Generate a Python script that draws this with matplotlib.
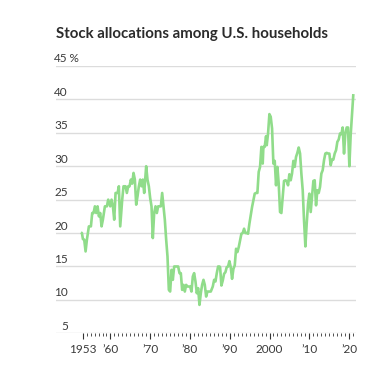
import matplotlib
matplotlib.use("Agg")
import matplotlib.pyplot as plt
import matplotlib.transforms as mtrans
from matplotlib.ticker import FixedLocator

# ---- data ----
years = [
    1952.56, 1952.82, 1953.07, 1953.40, 1953.74, 1954.07, 1954.57, 1955.08, 1955.41, 1955.75,
    1956.08, 1956.42, 1956.75, 1957.09, 1957.42, 1957.76, 1958.09, 1958.60, 1959.10, 1959.43,
    1959.94, 1960.27, 1960.61, 1960.94, 1961.28, 1961.78, 1962.11, 1962.45, 1962.95, 1963.28,
    1963.79, 1964.12, 1964.46, 1964.79, 1965.13, 1965.46, 1965.80, 1966.13, 1966.47, 1966.80,
    1967.14, 1967.47, 1967.81, 1968.14, 1968.48, 1968.81, 1968.98, 1969.31, 1969.65, 1969.98,
    1970.32, 1970.65, 1970.99, 1971.33, 1971.66, 1972.00, 1972.33, 1972.67, 1973.00, 1973.34,
    1973.67, 1974.01, 1974.34, 1974.68, 1975.01, 1975.35, 1975.68, 1976.02, 1976.35, 1976.69,
    1977.02, 1977.36, 1977.69, 1978.03, 1978.36, 1978.70, 1979.03, 1979.37, 1979.70, 1980.04,
    1980.37, 1980.71, 1981.04, 1981.38, 1981.71, 1982.05, 1982.38, 1982.72, 1983.05, 1983.39,
    1983.72, 1984.06, 1984.39, 1984.73, 1985.23, 1985.73, 1986.07, 1986.40, 1986.74, 1987.07,
    1987.41, 1987.57, 1987.90, 1988.24, 1988.57, 1988.91, 1989.24, 1989.58, 1989.91, 1990.25,
    1990.58, 1990.92, 1991.25, 1991.59, 1991.92, 1992.26, 1992.59, 1992.93, 1993.26, 1993.60,
    1993.93, 1994.27, 1994.60, 1994.94, 1995.27, 1995.61, 1995.94, 1996.28, 1996.61, 1996.95,
    1997.28, 1997.62, 1997.96, 1998.29, 1998.46, 1998.79, 1999.13, 1999.30, 1999.63, 1999.97,
    2000.30, 2000.64, 2000.97, 2001.31, 2001.64, 2001.98, 2002.31, 2002.65, 2002.98, 2003.32,
    2003.65, 2003.99, 2004.32, 2004.66, 2004.99, 2005.33, 2005.66, 2006.00, 2006.33, 2006.67,
    2007.00, 2007.34, 2007.68, 2008.01, 2008.35, 2008.68, 2009.02, 2009.35, 2009.69, 2010.02,
    2010.36, 2010.69, 2011.03, 2011.36, 2011.70, 2012.03, 2012.37, 2012.70, 2013.04, 2013.37,
    2013.71, 2014.04, 2014.38, 2014.71, 2015.05, 2015.38, 2015.72, 2016.05, 2016.39, 2016.73,
    2017.06, 2017.40, 2017.73, 2018.07, 2018.40, 2018.74, 2019.07, 2019.41, 2019.74, 2020.08,
    2020.41, 2020.75, 2021.08,
]
stock_share = [
    20.1, 20.0, 19.1, 19.0, 17.25, 19.0, 21.0, 21.0, 23.0, 23.0,
    24.0, 23.0, 24.0, 22.5, 23.0, 21.0, 22.0, 24.0, 24.0, 25.0,
    24.0, 25.0, 24.0, 22.0, 26.0, 26.0, 27.0, 21.0, 25.0, 27.0,
    27.0, 26.0, 27.0, 27.0, 28.0, 27.4, 29.0, 28.0, 24.25, 25.5,
    27.0, 28.0, 27.0, 28.0, 26.0, 28.5, 30.0, 28.0, 27.0, 25.25,
    24.0, 19.25, 23.0, 24.0, 23.0, 24.0, 24.0, 24.0, 26.0, 24.0,
    22.0, 19.0, 16.5, 11.5, 11.25, 14.5, 13.0, 15.0, 15.0, 15.0,
    15.0, 14.0, 14.0, 11.5, 12.25, 11.25, 12.25, 12.0, 12.0, 12.0,
    11.25, 13.5, 14.0, 12.75, 11.0, 11.75, 9.25, 11.0, 12.25, 13.0,
    12.25, 10.5, 11.25, 11.25, 11.25, 12.0, 13.0, 12.75, 14.0, 15.0,
    15.0, 14.9, 12.15, 12.9, 13.9, 14.15, 14.9, 15.0, 15.8, 14.9,
    13.15, 14.65, 15.15, 17.65, 17.15, 17.9, 18.9, 19.9, 20.0, 20.65,
    20.0, 20.0, 19.9, 21.4, 22.65, 23.9, 24.9, 25.9, 26.0, 26.0,
    29.15, 29.9, 32.9, 30.4, 32.9, 32.9, 34.5, 33.15, 34.9, 37.8,
    37.4, 35.65, 30.4, 30.8, 27.15, 29.9, 27.4, 23.15, 23.0, 25.4,
    27.8, 27.9, 27.8, 27.15, 28.8, 27.9, 28.9, 30.8, 29.9, 31.4,
    32.0, 32.8, 31.9, 28.9, 26.4, 21.9, 18.0, 21.4, 24.4, 25.9,
    23.15, 25.4, 27.8, 27.9, 24.15, 26.4, 26.0, 26.9, 28.9, 29.4,
    30.9, 31.9, 32.0, 31.9, 31.9, 30.15, 31.0, 31.0, 31.9, 32.4,
    33.65, 34.0, 34.9, 34.8, 35.8, 31.9, 34.9, 35.8, 35.8, 30.0,
    34.65, 37.9, 40.8,
]
y_ticks = [5, 10, 15, 20, 25, 30, 35, 40, 45]
y_labels = ["5", "10", "15", "20", "25", "30", "35", "40", "45"]
y_unit = "\u2009%"
x_major = [1953, 1960, 1970, 1980, 1990, 2000, 2010, 2020]
x_labels = ["1953", "\u201960", "\u201970", "\u201980", "\u201990", "2000", "\u201910", "\u201920"]
x_minor = list(range(1953, 2022))
title = "Stock allocations among U.S. households"

# ---- figure ----
W, H = 385, 365
fig = plt.figure(figsize=(W / 100, H / 100), dpi=100)
L, R, T, B = 56, 356, 66, 333.3
ax = fig.add_axes([L / W, 1 - B / H, (R - L) / W, (B - T) / H])

ax.set_xlim(1946.3, 2021.75)
ax.set_ylim(5, 45)

for s in ax.spines.values():
    s.set_visible(False)

grid_color = "#dcdcdc"
for v in y_ticks:
    ax.axhline(v, color=grid_color, lw=1.0, zorder=1)

ax.plot(years, stock_share, color="#90dc8a", lw=1.9, zorder=3,
        solid_joinstyle="round", solid_capstyle="butt")

# y labels (right aligned, sitting just above their grid lines)
font = "Lato"
txt_color = "#3a3a3a"
blend = mtrans.blended_transform_factory(fig.transFigure, ax.transData)
lift = mtrans.offset_copy(blend, fig=fig, x=0, y=3.5, units="dots")
for v, lab in zip(y_ticks, y_labels):
    ax.text(68 / W, v, lab, transform=lift, ha="right", va="baseline",
            fontsize=8.5, color=txt_color, family=font)
ax.text(68.5 / W, y_ticks[-1], y_unit, transform=lift, ha="left", va="baseline",
        fontsize=8.5, color=txt_color, family=[font, "DejaVu Sans"])

ax.set_yticks([])

# x ticks
ax.xaxis.set_major_locator(FixedLocator(x_major))
ax.xaxis.set_minor_locator(FixedLocator(x_minor))
ax.set_xticklabels(x_labels, family=font, fontsize=8.5, color=txt_color)
ax.tick_params(axis="x", which="major", length=4.5, width=0.8, color="#333333", pad=3)
ax.tick_params(axis="x", which="minor", length=2.5, width=0.6, color="#333333")

fig.text(L / W, 1 - 38 / H, title, ha="left", va="baseline",
         fontsize=10.8, fontweight="bold", color="#2b2b2b", family=font)

fig.savefig("out.png", dpi=100)
